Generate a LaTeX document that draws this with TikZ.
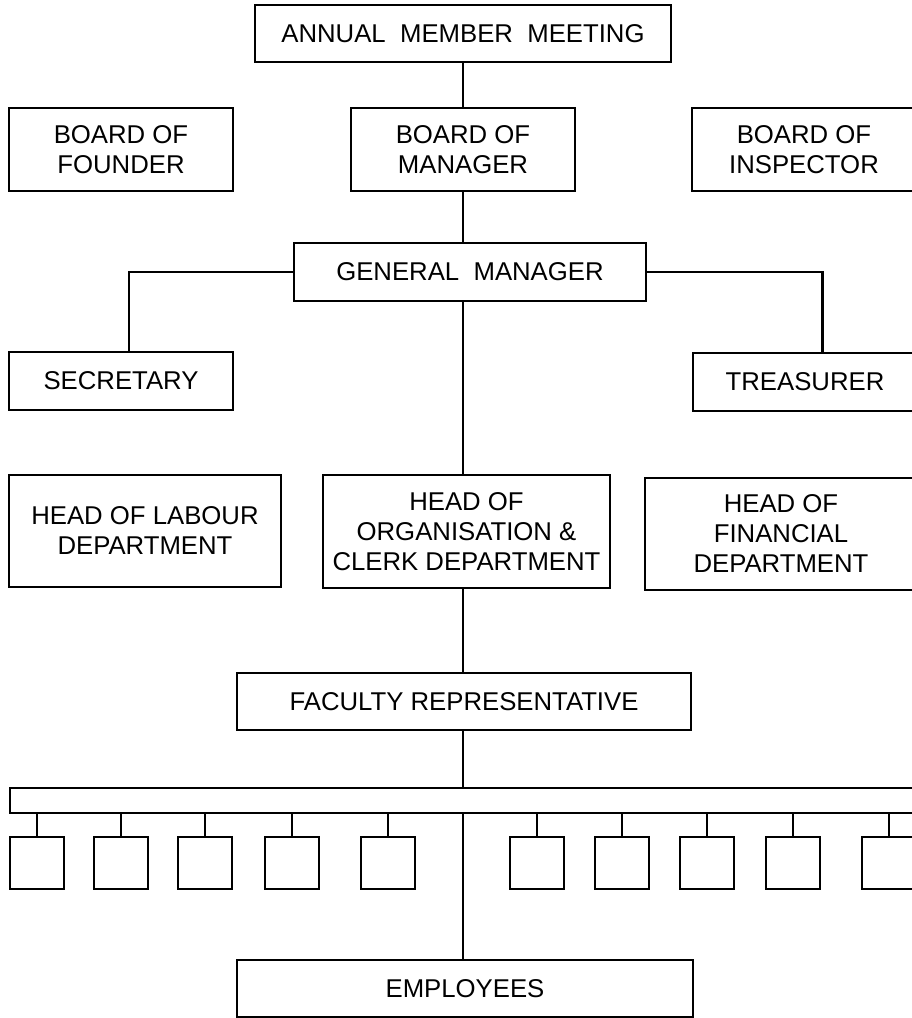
\documentclass[tikz,border=0pt]{standalone}
\usepackage{fontspec}
\setmainfont{Liberation Sans}
\begin{document}
\begin{tikzpicture}[x=0.75pt,y=0.75pt,yscale=-1,xscale=1,
  box/.style={draw, line width=1.8pt, align=center, inner sep=0pt, font=\fontsize{19.3}{22.5}\selectfont},
  cell/.style={draw, line width=1.8pt, inner sep=0pt, minimum width=40.5pt, minimum height=39pt},
  link/.style={line width=1.8pt}]
\useasboundingbox (0,0) rectangle (912,1018);

%Top: meeting and boards
\node [box, minimum width=312pt, minimum height=42.75pt] (annual) at (463,33.5) {ANNUAL\ \ MEMBER\ \ MEETING};
\node [box, minimum width=168pt, minimum height=62.25pt] (founder) at (121,149.5) {BOARD OF\\FOUNDER};
\node [box, minimum width=168pt, minimum height=62.25pt] (bmanager) at (463,149.5) {BOARD OF\\MANAGER};
\node [box, minimum width=168pt, minimum height=62.25pt] (inspector) at (804,149.5) {BOARD OF\\INSPECTOR};

%Manager row
\node [box, minimum width=264pt, minimum height=43.5pt] (gm) at (470,272) {GENERAL\ \ MANAGER};
\node [box, minimum width=168pt, minimum height=43.5pt] (secretary) at (121,381) {SECRETARY};
\node [box, minimum width=168pt, minimum height=43.5pt] (treasurer) at (805,382) {TREASURER};

%Heads of department
\node [box, minimum width=204pt, minimum height=84pt] (labour) at (145,531) {HEAD OF LABOUR\\DEPARTMENT};
\node [box, minimum width=215.25pt, minimum height=84.75pt] (org) at (466.5,531.5) {HEAD OF\\ORGANISATION \&\\CLERK DEPARTMENT};
\node [box, minimum width=204pt, minimum height=84pt] (financial) at (781,534) {HEAD OF\\FINANCIAL\\DEPARTMENT};

%Faculty, bar and employees
\node [box, minimum width=340.5pt, minimum height=42.75pt] (faculty) at (464,701.5) {FACULTY REPRESENTATIVE};
\node [box, minimum width=690pt, minimum height=18.75pt] (bar) at (470,800.5) {};
\foreach \x [count=\i] in {37,121,205,292,388,537,622,707,793,889}
  \node [cell] (cell\i) at (\x,863) {};
\node [box, minimum width=342pt, minimum height=42.75pt] (employees) at (465,988.5) {EMPLOYEES};

\coordinate (spine) at (463,0);

%Connectors
\draw [link] (annual) -- (bmanager);
\draw [link] (bmanager) -- (bmanager |- gm.north);
\draw [link] (gm.west) -| ([xshift=6pt]secretary.north);
\draw [link] (gm.east) -| ([xshift=13pt]treasurer.north);
\draw [link] (spine |- gm.south) -- (spine |- org.north);
\draw [link] (spine |- org.south) -- (spine |- faculty.north);
\draw [link] (spine |- faculty.south) -- (spine |- bar.north);
\foreach \i in {1,...,10}
  \draw [link] (bar.south -| cell\i) -- (cell\i);
\draw [link] (spine |- bar.south) -- (spine |- employees.north);

\end{tikzpicture}
\end{document}
